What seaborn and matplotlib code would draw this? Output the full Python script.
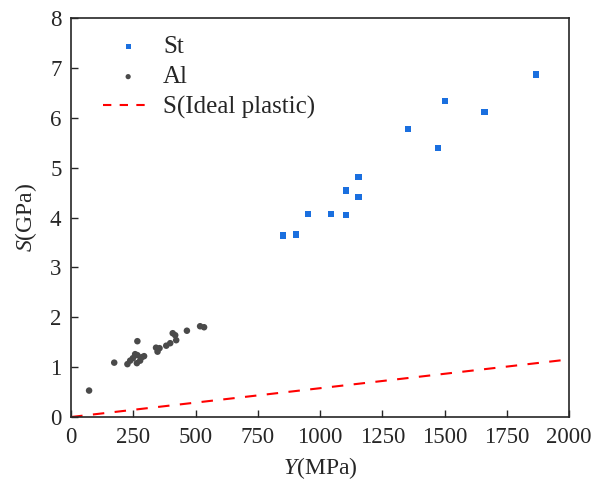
import matplotlib
matplotlib.use("Agg")
import matplotlib.pyplot as plt
import pandas as pd
import seaborn as sns

# St (steel) data: Y in MPa, S in GPa
st_y = [852, 903, 953, 1043, 1103, 1103, 1154, 1154, 1352, 1474, 1502, 1661, 1867]
st_s = [3.64, 3.66, 4.07, 4.07, 4.05, 4.54, 4.41, 4.81, 5.78, 5.39, 6.34, 6.11, 6.87]

# Al data
al_y = [72, 173, 226, 237, 248, 257, 266, 266, 264, 277, 284, 293,
        341, 347, 355, 382, 398, 408, 418, 422, 465, 518, 534]
al_s = [0.53, 1.09, 1.06, 1.13, 1.18, 1.26, 1.24, 1.52, 1.08, 1.13, 1.20, 1.22,
        1.39, 1.31, 1.38, 1.43, 1.48, 1.68, 1.64, 1.54, 1.73, 1.82, 1.80]

# ideal plastic line S = Y / sqrt(3)
ideal_y = [0, 2000]
ideal_s = [0, 1.155]

sns.set_style("ticks")
plt.rcParams["font.family"] = ["Liberation Serif", "DejaVu Serif"]
plt.rcParams["mathtext.fontset"] = "custom"
plt.rcParams["mathtext.it"] = "Liberation Serif:italic"
plt.rcParams["mathtext.rm"] = "Liberation Serif"

fig = plt.figure(figsize=(5.93, 4.88), dpi=100)
ax = fig.add_axes([0.12, 0.1455, 0.8395, 0.8175])

st_df = pd.DataFrame({"Y": st_y, "S": st_s})
al_df = pd.DataFrame({"Y": al_y, "S": al_s})
line_df = pd.DataFrame({"Y": ideal_y, "S": ideal_s})

sns.scatterplot(data=st_df, x="Y", y="S", ax=ax, marker="s", s=20,
                color="#1a6fdf", edgecolor="none", label="St")
sns.scatterplot(data=al_df, x="Y", y="S", ax=ax, marker="o", s=22,
                color="#4a4a4a", edgecolor="none", label="Al")
sns.lineplot(data=line_df, x="Y", y="S", ax=ax, color="red", linewidth=1.5,
             label="S(Ideal plastic)")
ax.lines[-1].set_dashes((5.5, 5))

ax.set_xlim(0, 2000)
ax.set_ylim(0, 8)
ax.set_xticks(range(0, 2001, 250))
ax.set_yticks(range(0, 9))
ax.tick_params(direction="in", length=5, width=1, labelsize=16.5, pad=7)
for sp in ax.spines.values():
    sp.set_linewidth(1.2)

ax.set_xlabel(r"$\mathit{Y}$(MPa)", fontsize=17, labelpad=5)
ax.set_ylabel(r"$\mathit{S}$(GPa)", fontsize=17, labelpad=8)

leg = ax.legend(loc="upper left", frameon=False, fontsize=18, markerscale=0.8,
                handlelength=2.0, handletextpad=0.4, borderpad=0,
                borderaxespad=0, labelspacing=0.32,
                bbox_to_anchor=(32 / 498, 0.957))
for h in leg.get_lines():
    h.set_dashes((4, 4))

fig.savefig("out.png", dpi=100)
